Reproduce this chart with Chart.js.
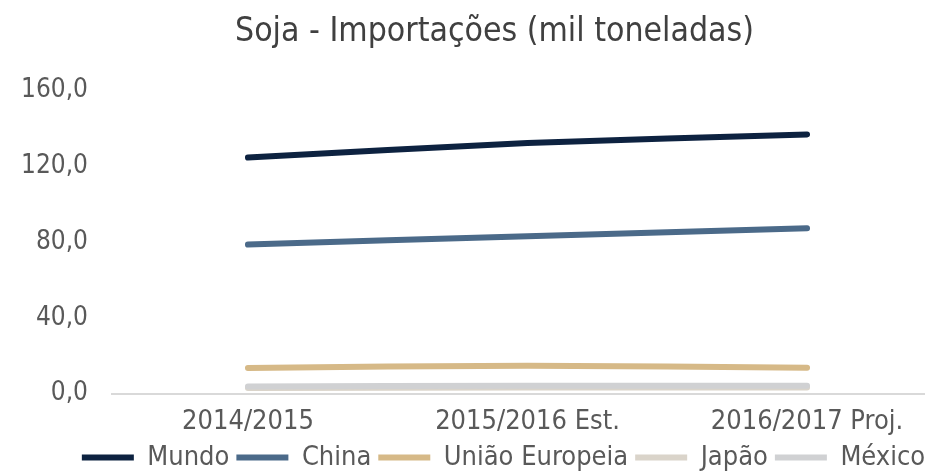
<!DOCTYPE html>
<html><head><meta charset="utf-8">
<script src="https://cdn.jsdelivr.net/npm/chart.js@4/dist/chart.umd.min.js"></script>
<style>html,body{margin:0;padding:0;background:#fff}#wrap{width:925px;height:472px}</style>
</head><body><div id="wrap"><canvas id="c" width="925" height="472"></canvas></div>
<script>
const categories = ["2014/2015", "2015/2016 Est.", "2016/2017 Proj."];
const mundo = [124.5, 132.1, 136.7];
const china = [78.6, 83.0, 87.2];
const uniaoEuropeia = [13.5, 14.7, 13.6];
const japao = [3.0, 3.2, 3.2];
const mexico = [3.8, 4.1, 4.2];
const yTicks = [0, 40, 80, 120, 160];

const FONT = "'DejaVu Sans Condensed', 'DejaVu Sans', sans-serif";
const pts = arr => arr.map((v, i) => ({x: i, y: v}));
const ds = (label, data, color, order) => ({
  label, data: pts(data), borderColor: color, backgroundColor: color,
  borderWidth: 6, pointRadius: 0, tension: 0.3, borderCapStyle: 'round', order
});

const shiftPlugin = {
  id: 'shift',
  afterLayout(chart) {
    if (chart.titleBlock) chart.titleBlock.left += 64;
    if (chart.legend) {
      chart.legend.left += 41; chart.legend.right += 41;
      chart.legend.top -= 13; chart.legend.bottom -= 13;
    }
  }
};

new Chart(document.getElementById('c'), {
  type: 'line',
  plugins: [shiftPlugin],
  data: {
    datasets: [
      ds('Mundo', mundo, '#0D2240', 0),
      ds('China', china, '#4B6A89', 0),
      ds('União Europeia', uniaoEuropeia, '#D6B987', 0),
      ds('Japão', japao, '#DAD4CA', 2),
      ds('México', mexico, '#D0D1D3', 1)
    ]
  },
  options: {
    responsive: false, animation: false,
    layout: {padding: {left: 0, right: 0, top: 0, bottom: -22}},
    plugins: {
      title: {display: true, text: 'Soja - Importações (mil toneladas)', color: '#404040',
        font: {family: FONT, size: 33.5, weight: 'normal'}, padding: {top: 12, bottom: 38}},
      legend: {position: 'bottom', labels: {color: '#595959', font: {family: FONT, size: 27},
        boxWidth: 52, boxHeight: 6, padding: 7,
        generateLabels: chart => chart.data.datasets.map((d, i) => ({
          text: d.label, fillStyle: d.borderColor, strokeStyle: d.borderColor, lineWidth: 0,
          hidden: false, datasetIndex: i, fontColor: '#595959'}))}},
      tooltip: {enabled: false}
    },
    scales: {
      x: {type: 'linear', min: -0.490, max: 2.422,
        afterBuildTicks: s => { s.ticks = categories.map((c, i) => ({value: i})); },
        ticks: {color: '#595959', font: {family: FONT, size: 27}, padding: 12,
          callback: v => categories[v]},
        grid: {display: false, drawTicks: false}, border: {display: false}},
      y: {min: 0, max: 160,
        afterBuildTicks: s => { s.ticks = yTicks.map(v => ({value: v})); },
        afterFit: s => { s.width = 111; },
        ticks: {color: '#595959', font: {family: FONT, size: 26}, padding: 23,
          callback: v => v.toFixed(1).replace('.', ',')},
        grid: {color: c => c.tick.value === 0 ? '#D9D9D9' : 'rgba(0,0,0,0)', lineWidth: 2, drawTicks: false},
        border: {display: false}}
    }
  }
});
</script></body></html>
